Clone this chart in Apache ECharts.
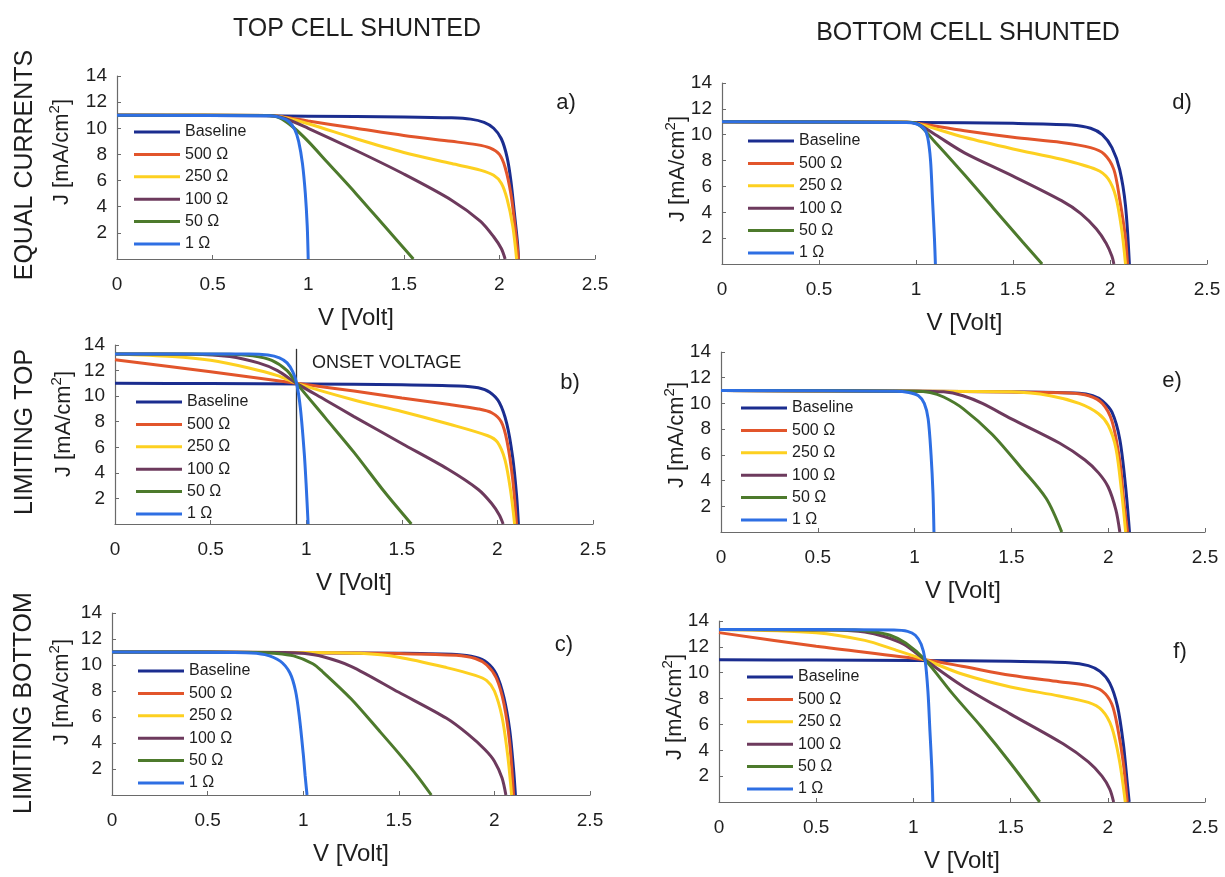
<!DOCTYPE html>
<html>
<head>
<meta charset="utf-8">
<script src="https://cdn.jsdelivr.net/npm/echarts@6/dist/echarts.min.js"></script>
<style>
html,body{margin:0;padding:0;background:#fff;}
#chart{width:1225px;height:877px;}
</style>
</head>
<body>
<div id="chart"></div>
<script>
// ---------------- DATA ----------------
const seriesNames = ['Baseline', '500 Ω', '250 Ω', '100 Ω', '50 Ω', '1 Ω'];
const xTicks = [0, 0.5, 1, 1.5, 2, 2.5];
const yTicks = [0, 2, 4, 6, 8, 10, 12, 14];
const columnTitles = ['TOP CELL SHUNTED', 'BOTTOM CELL SHUNTED'];
const rowTitles = ['EQUAL CURRENTS', 'LIMITING TOP', 'LIMITING BOTTOM'];
const panelLetters = ['a)', 'b)', 'c)', 'd)', 'e)', 'f)'];
const onsetV = 0.95;
const onsetTop = 13.7;

// panel a : equal currents, top cell shunted
const a_baseline = [[0,11.0],[0.5,10.97],[1.0,10.93],[1.5,10.87],[1.75,10.8],[1.85,10.7],[1.92,10.45],[1.97,10.0],[2.01,9.2],[2.04,7.8],[2.06,6.0],[2.08,3.3],[2.095,1.2],[2.1,0]];
const a_500 = [[0,11.0],[0.8,10.97],[0.88,10.85],[1.0,10.55],[1.25,10.0],[1.5,9.45],[1.75,9.0],[1.88,8.75],[1.95,8.5],[2.0,8.0],[2.03,7.0],[2.06,5.0],[2.08,2.7],[2.1,0]];
const a_250 = [[0,11.0],[0.8,10.97],[0.88,10.8],[1.0,10.35],[1.25,9.2],[1.5,8.15],[1.75,7.3],[1.9,6.8],[1.97,6.4],[2.01,5.8],[2.04,4.6],[2.07,2.5],[2.09,0]];
const a_100 = [[0,11.0],[0.8,10.97],[0.88,10.75],[1.0,10.0],[1.25,8.3],[1.5,6.5],[1.75,4.5],[1.9,2.9],[1.97,1.7],[2.01,0.8],[2.03,0]];
const a_50 = [[0,11.0],[0.78,10.97],[0.85,10.8],[0.92,10.1],[1.0,9.0],[1.1,7.4],[1.25,5.0],[1.4,2.5],[1.55,0]];
const a_1 = [[0,11.0],[0.8,10.95],[0.86,10.8],[0.9,10.5],[0.93,9.9],[0.95,9.0],[0.97,7.3],[0.985,5.0],[0.995,2.5],[1.0,0]];

// panel b : limiting top, top cell shunted
const b_baseline = [[0,11.0],[0.5,10.98],[1.0,10.95],[1.5,10.9],[1.8,10.8],[1.9,10.65],[1.96,10.3],[2.01,9.5],[2.05,7.8],[2.08,5.2],[2.1,2.3],[2.11,0]];
const b_500 = [[0,12.85],[0.5,11.9],[0.95,11.0],[1.25,10.4],[1.5,9.85],[1.75,9.35],[1.9,9.0],[1.97,8.7],[2.02,8.0],[2.05,6.5],[2.08,3.5],[2.1,0]];
const b_250 = [[0,13.3],[0.3,13.1],[0.5,12.8],[0.7,12.2],[0.85,11.6],[0.95,11.0],[1.25,9.7],[1.5,8.8],[1.75,7.8],[1.95,6.9],[2.0,6.4],[2.04,5.0],[2.07,2.5],[2.09,0]];
const b_100 = [[0,13.3],[0.4,13.28],[0.6,13.1],[0.75,12.6],[0.85,12.0],[0.95,11.0],[1.1,9.7],[1.25,8.4],[1.5,6.3],[1.74,4.3],[1.9,2.7],[1.97,1.6],[2.01,0.7],[2.03,0]];
const b_50 = [[0,13.3],[0.6,13.28],[0.72,13.15],[0.82,12.8],[0.9,12.0],[0.95,11.0],[1.1,8.3],[1.25,5.6],[1.41,2.5],[1.55,0]];
const b_1 = [[0,13.3],[0.7,13.3],[0.8,13.22],[0.86,13.0],[0.9,12.6],[0.93,11.9],[0.95,11.0],[0.97,9.0],[0.99,5.5],[1.0,3.0],[1.01,0]];

// panel c : limiting bottom, top cell shunted
const c_baseline = [[0,11.0],[0.5,10.98],[1.0,10.95],[1.5,10.9],[1.8,10.8],[1.9,10.6],[1.96,10.2],[2.01,9.3],[2.05,7.5],[2.08,5.0],[2.1,2.0],[2.11,0]];
const c_500 = [[0,11.0],[1.0,10.95],[1.5,10.88],[1.8,10.75],[1.9,10.5],[1.96,10.0],[2.01,9.0],[2.05,7.0],[2.08,4.0],[2.1,0]];
const c_250 = [[0,11.0],[1.0,10.97],[1.3,10.9],[1.5,10.6],[1.75,9.8],[1.9,9.2],[1.96,8.8],[2.0,8.0],[2.04,6.0],[2.07,3.0],[2.09,0]];
const c_100 = [[0,11.0],[0.9,10.97],[1.0,10.9],[1.1,10.65],[1.25,9.9],[1.5,7.9],[1.75,5.9],[1.86,4.7],[1.95,3.5],[2.0,2.6],[2.04,1.3],[2.06,0]];
const c_50 = [[0,11.0],[0.75,10.97],[0.85,10.9],[0.95,10.7],[1.05,10.1],[1.1,9.5],[1.25,7.4],[1.4,4.9],[1.5,3.2],[1.6,1.4],[1.67,0]];
const c_1 = [[0,11.0],[0.7,10.95],[0.8,10.8],[0.88,10.3],[0.93,9.4],[0.96,8.0],[0.98,6.0],[1.0,3.2],[1.01,1.5],[1.02,0]];

// panel d : equal currents, bottom cell shunted
const d_baseline = [[0,11.0],[0.5,10.98],[1.0,10.95],[1.5,10.88],[1.8,10.75],[1.9,10.5],[1.96,10.0],[2.01,9.0],[2.05,7.3],[2.08,4.5],[2.1,0]];
const d_500 = [[0,11.0],[0.95,10.97],[1.0,10.9],[1.25,10.3],[1.5,9.8],[1.75,9.4],[1.9,9.0],[1.97,8.5],[2.02,7.3],[2.05,5.0],[2.08,2.0],[2.09,0]];
const d_250 = [[0,11.0],[0.95,10.97],[1.0,10.9],[1.25,9.8],[1.5,8.9],[1.75,8.1],[1.93,7.3],[1.99,6.6],[2.03,5.2],[2.06,2.7],[2.08,0]];
const d_100 = [[0,11.0],[0.95,10.97],[1.0,10.9],[1.1,10.0],[1.25,8.6],[1.5,6.8],[1.75,4.9],[1.85,3.9],[1.93,2.7],[1.98,1.6],[2.01,0.6],[2.02,0]];
const d_50 = [[0,11.0],[0.95,10.97],[1.0,10.9],[1.1,9.4],[1.25,6.9],[1.4,4.3],[1.55,1.7],[1.65,0]];
const d_1 = [[0,11.0],[0.95,10.95],[1.0,10.85],[1.04,10.5],[1.06,9.8],[1.075,8.0],[1.085,5.0],[1.095,2.0],[1.1,0]];

// panel e : limiting top, bottom cell shunted
const e_baseline = [[0,11.0],[1.0,10.95],[1.5,10.9],[1.85,10.8],[1.92,10.6],[1.97,10.2],[2.02,9.3],[2.06,7.2],[2.09,3.5],[2.11,0]];
const e_500 = [[0,11.0],[1.0,10.95],[1.5,10.88],[1.8,10.82],[1.9,10.6],[1.97,10.0],[2.02,8.6],[2.06,5.5],[2.08,2.5],[2.1,0]];
const e_250 = [[0,11.0],[1.0,10.95],[1.5,10.9],[1.7,10.6],[1.85,10.0],[1.95,9.2],[2.0,8.3],[2.04,6.5],[2.07,3.0],[2.09,0]];
const e_100 = [[0,11.0],[1.0,10.95],[1.15,10.9],[1.25,10.6],[1.35,10.0],[1.5,8.8],[1.75,6.9],[1.88,5.6],[1.95,4.6],[2.0,3.5],[2.04,1.7],[2.06,0]];
const e_50 = [[0,11.0],[1.0,10.95],[1.08,10.85],[1.15,10.5],[1.25,9.6],[1.4,7.6],[1.55,5.0],[1.68,2.6],[1.76,0]];
const e_1 = [[0,11.0],[0.9,10.95],[0.97,10.85],[1.02,10.6],[1.05,10.0],[1.07,8.8],[1.085,6.0],[1.095,3.0],[1.1,0]];

// panel f : limiting bottom, bottom cell shunted
const f_baseline = [[0,11.0],[0.5,10.98],[1.0,10.95],[1.5,10.88],[1.8,10.78],[1.9,10.55],[1.96,10.1],[2.01,9.2],[2.05,7.4],[2.08,4.5],[2.1,1.5],[2.11,0]];
const f_500 = [[0,13.1],[0.5,12.05],[1.06,11.0],[1.25,10.5],[1.5,9.8],[1.75,9.3],[1.9,9.0],[1.97,8.6],[2.02,7.6],[2.05,5.8],[2.08,3.0],[2.1,0]];
const f_250 = [[0,13.35],[0.5,13.1],[0.75,12.5],[0.9,11.8],[1.06,11.0],[1.25,9.9],[1.5,8.9],[1.75,8.2],[1.9,7.7],[1.97,7.1],[2.02,5.8],[2.06,3.2],[2.09,0]];
const f_100 = [[0,13.35],[0.6,13.3],[0.75,13.15],[0.85,12.8],[0.95,12.2],[1.06,11.0],[1.25,9.0],[1.5,6.8],[1.77,4.5],[1.9,3.1],[1.97,2.0],[2.01,1.0],[2.03,0]];
const f_50 = [[0,13.35],[0.7,13.3],[0.8,13.15],[0.88,12.9],[0.96,12.3],[1.06,11.0],[1.2,8.4],[1.35,5.8],[1.5,3.0],[1.65,0]];
const f_1 = [[0,13.35],[0.9,13.3],[0.97,13.2],[1.01,12.9],[1.04,12.2],[1.06,11.0],[1.075,8.5],[1.085,5.5],[1.095,2.5],[1.1,0]];

// ---------------- BUILD ----------------
const panels = [
  [a_baseline, a_500, a_250, a_100, a_50, a_1],
  [b_baseline, b_500, b_250, b_100, b_50, b_1],
  [c_baseline, c_500, c_250, c_100, c_50, c_1],
  [d_baseline, d_500, d_250, d_100, d_50, d_1],
  [e_baseline, e_500, e_250, e_100, e_50, e_1],
  [f_baseline, f_500, f_250, f_100, f_50, f_1]
];
const colors = ['#1b2d8f', '#e2552b', '#fdd020', '#6d3a5d', '#4d7a2c', '#2e6fe3'];
const FONT = '"Liberation Sans", Arial, Helvetica, sans-serif';
const TXT = '#1e1e1e';
const AX = '#6a6a6a';

const gridBoxes = [
  {left:117, top:76,  width:478, height:183},
  {left:115, top:345, width:478, height:179},
  {left:112, top:613, width:478, height:182},
  {left:722, top:83,  width:485, height:181},
  {left:721, top:352, width:484, height:180},
  {left:719, top:621, width:486, height:181}
];
const legendPos = [
  {left:134, top:124}, {left:136, top:394}, {left:138, top:663},
  {left:748, top:133}, {left:741, top:400}, {left:747, top:669}
];
const letterPos = [[566,103],[570,383],[564,645],[1182,103],[1172,381],[1180,652]];
const jLabelPos = [[60,152],[62,424],[60,692],[676,169],[675,435],[673,707]];

const grid = [], xAxis = [], yAxis = [], series = [], legend = [];
gridBoxes.forEach((g, i) => {
  grid.push(Object.assign({containLabel:false}, g));
  xAxis.push({
    type:'value', gridIndex:i, min:xTicks[0], max:xTicks[xTicks.length-1], interval:xTicks[1]-xTicks[0],
    name:'V [Volt]', nameLocation:'middle', nameGap:47,
    nameTextStyle:{fontFamily:FONT, fontSize:24, color:TXT},
    axisLine:{show:true, onZero:false, lineStyle:{color:AX, width:1.2}},
    axisTick:{show:true, inside:true, length:4, lineStyle:{color:AX}},
    axisLabel:{fontFamily:FONT, fontSize:19, color:TXT, margin:16, formatter:v => String(v)},
    splitLine:{show:false}
  });
  yAxis.push({
    type:'value', gridIndex:i, min:yTicks[0], max:yTicks[yTicks.length-1], interval:yTicks[1]-yTicks[0],
    axisLine:{show:true, onZero:false, lineStyle:{color:AX, width:1.2}},
    axisTick:{show:true, inside:true, length:4, lineStyle:{color:AX}},
    axisLabel:{fontFamily:FONT, fontSize:19, color:TXT, margin:10, formatter:v => (v === 0 ? '' : String(v))},
    splitLine:{show:false}
  });
  panels[i].forEach((d, k) => {
    const s = {
      name:seriesNames[k], type:'line', xAxisIndex:i, yAxisIndex:i, data:d,
      symbol:'none', showSymbol:false, smooth:0.3,
      lineStyle:{width:3, color:colors[k]}, itemStyle:{color:colors[k]},
      silent:true, animation:false, clip:true, z:2 + k
    };
    if (i === 1 && k === 0) {
      s.markLine = {
        silent:true, symbol:'none', animation:false,
        lineStyle:{color:'#333', width:1.3, type:'solid'}, label:{show:false},
        data:[[{coord:[onsetV, 0]}, {coord:[onsetV, onsetTop]}]]
      };
    }
    series.push(s);
  });
  legend.push({
    orient:'vertical', left:legendPos[i].left, top:legendPos[i].top,
    data:seriesNames, icon:'rect', itemWidth:46, itemHeight:3, itemGap:6.4,
    selectedMode:false, padding:0,
    textStyle:{fontFamily:FONT, fontSize:16, lineHeight:16, color:TXT}
  });
});

const graphic = [];
const txt = (x, y, text, size, opts) => Object.assign({
  type:'text', x:x, y:y, silent:true,
  style:{text:text, fontFamily:FONT, fontSize:size, fill:TXT, align:'center', verticalAlign:'middle'}
}, opts || {});
graphic.push(txt(357, 29, columnTitles[0], 25));
graphic.push(txt(968, 33, columnTitles[1], 25));
graphic.push(txt(25, 165, rowTitles[0], 25, {rotation:Math.PI/2}));
graphic.push(txt(25, 432, rowTitles[1], 25, {rotation:Math.PI/2}));
graphic.push(txt(24, 703, rowTitles[2], 25, {rotation:Math.PI/2}));
letterPos.forEach((p, i) => graphic.push(txt(p[0], p[1], panelLetters[i], 22)));
jLabelPos.forEach(p => graphic.push({
  type:'text', x:p[0], y:p[1], rotation:Math.PI/2, silent:true,
  style:{
    text:'{a|J [mA/cm}{s|2}{a|]}', align:'center', verticalAlign:'middle', fill:TXT,
    rich:{
      a:{fontFamily:FONT, fontSize:22, lineHeight:26, fill:TXT, verticalAlign:'bottom'},
      s:{fontFamily:FONT, fontSize:15, lineHeight:26, fill:TXT, verticalAlign:'top', padding:[0,0,12,0]}
    }
  }
}));
graphic.push({
  type:'text', x:312, y:363, silent:true,
  style:{text:'ONSET VOLTAGE', fontFamily:FONT, fontSize:18, fill:TXT, align:'left', verticalAlign:'middle'}
});

const chart = echarts.init(document.getElementById('chart'), null, {renderer:'canvas'});
chart.setOption({
  backgroundColor:'#ffffff',
  animation:false,
  grid, xAxis, yAxis, series, legend, graphic
});
</script>
</body>
</html>
